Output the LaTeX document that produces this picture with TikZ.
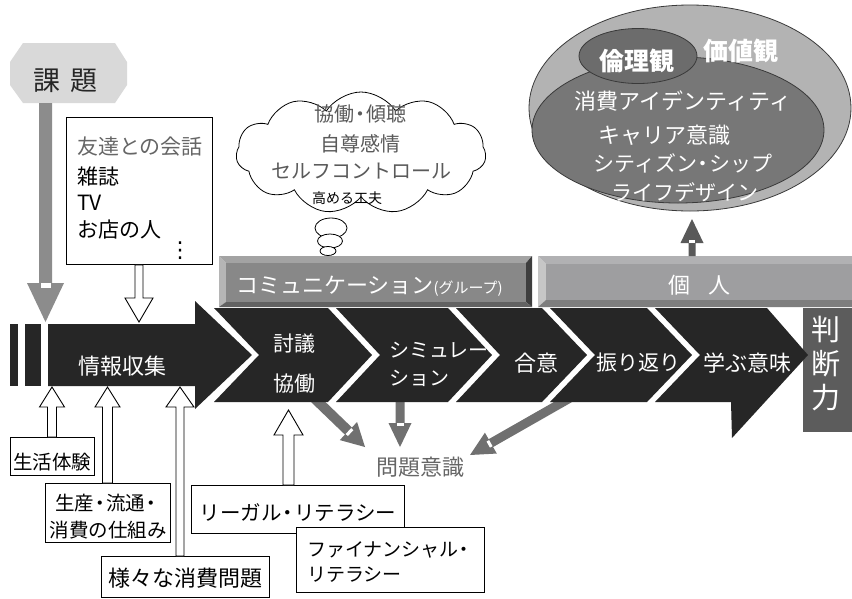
\documentclass[tikz,border=0pt]{standalone}
\usepackage{fontspec}
\setmainfont{Noto Sans CJK JP}
\newfontfamily\djv{DejaVu Sans}
\usetikzlibrary{calc,shapes.geometric,shapes.symbols}
\definecolor{blk}{HTML}{262626}
\definecolor{kadaiF}{HTML}{D9D9D9}
\definecolor{kadaiA}{HTML}{8C8C8C}
\definecolor{txtG}{HTML}{666666}
\definecolor{cloudT}{HTML}{5A5A5A}
\definecolor{ellO}{HTML}{B3B3B3}
\definecolor{ellI}{HTML}{777777}
\definecolor{ellS}{HTML}{6C6C6C}
\definecolor{ellL}{HTML}{3A3A3A}
\definecolor{upA}{HTML}{595959}
\definecolor{mondA}{HTML}{707070}
\definecolor{hanF}{HTML}{5C5C5C}
\definecolor{cFace}{HTML}{888888}
\definecolor{cTop}{HTML}{A3A3A3}
\definecolor{cLeft}{HTML}{B5B5B5}
\definecolor{cRight}{HTML}{3E3E3E}
\definecolor{cBot}{HTML}{626262}
\definecolor{kFace}{HTML}{9E9EA0}
\definecolor{kTop}{HTML}{B1B1B3}
\definecolor{kLeft}{HTML}{C6C6C6}
\definecolor{kBot}{HTML}{7E7E7E}
\newcommand{\nd}{\makebox[0.6em]{・}}
\tikzset{
  fs/.style={font=\fontsize{#1}{#1}\selectfont},
  fsb/.style={font=\fontsize{#1}{#1}\selectfont\bfseries},
  txt/.style={inner sep=0pt, outer sep=0pt},
  wtxt/.style={txt, text=white},
  boxnode/.style={draw=black, fill=white, line width=0.9pt, inner sep=0pt, anchor=north west},
  hollow/.style={draw=black, fill=white, line width=0.9pt, line join=miter},
}
\newcommand{\blockarrow}[6]{%
  \coordinate (bah) at ($(#3)!#6!(#2)$);
  \path[#1] ($(#2)!#4!90:(#3)$) -- ($(bah)!#4!90:(#3)$) -- ($(bah)!#5!90:(#3)$) -- (#3)
     -- ($(bah)!#5!-90:(#3)$) -- ($(bah)!#4!-90:(#3)$) -- ($(#2)!#4!-90:(#3)$) -- cycle;
}
\newcommand{\amark}[3]{\draw[white, line width=#3] (bah) -- ($(bah)!#2!(#1)$);}
\begin{document}
\begin{tikzpicture}[x=1pt,y=-1pt]
\useasboundingbox (0,0) rectangle (852,598);
\fill[white] (0,0) rectangle (852,598);

% ---------- values ellipse ----------
\node[ellipse, draw=ellL, fill=ellO, line width=0.8pt, minimum width=322pt, minimum height=206pt, inner sep=0pt] (valout) at (690,108) {};
\node[ellipse, draw=ellL, fill=ellI, line width=0.8pt, minimum width=292pt, minimum height=146pt, inner sep=0pt] (valin) at (678,130) {};
\node[ellipse, draw=ellL, fill=ellS, line width=0.8pt, minimum width=118pt, minimum height=55pt, inner sep=0pt] (rinri) at (638,56) {};
\node[wtxt, fsb=25] (rinriT) at (637,61) {倫理観};
\node[wtxt, fsb=25] (kachi) at (741,51) {価値観};
\node[wtxt, fs=22] (v1) at (683,101) {消費アイデンティティ};
\node[wtxt, fs=22] (v2) at (664,135) {キャリア意識};
\node[wtxt, fs=21] (v3) at (683,163) {シティズン\nd シップ};
\node[wtxt, fs=21] (v4) at (685,192) {ライフデザイン};

% ---------- cloud ----------
\node[cloud, cloud puffs=11, cloud puff arc=115, draw=black, fill=white, line width=0.8pt, minimum width=250pt, minimum height=122pt, inner sep=0pt] (cloud) at (361,153) {};
\node[ellipse, draw=black, fill=white, line width=0.8pt, minimum width=32pt, minimum height=20pt, inner sep=0pt] (bub1) at (331,228) {};
\node[ellipse, draw=black, fill=white, line width=0.8pt, minimum width=25pt, minimum height=14pt, inner sep=0pt] (bub2) at (330,241) {};
\node[ellipse, draw=black, fill=white, line width=0.8pt, minimum width=16pt, minimum height=9pt, inner sep=0pt] (bub3) at (328,251) {};
\node[txt, fs=20, text=cloudT] (c1) at (360,114) {協働\nd 傾聴};
\node[txt, fs=20, text=cloudT] (c2) at (360,144) {自尊感情};
\node[txt, fs=20, text=cloudT] (c3) at (361,171) {セルフコントロール};
\node[txt, fs=14, text=black] (c4) at (347,198) {高める工夫};

% ---------- kadai ----------
\path[fill=kadaiF] (23,43) -- (115,43) -- (127,62) -- (127,85) -- (115,103) -- (23,103) -- (10,85) -- (10,62) -- cycle;
\node[txt, fs=27, text=black!85] (kadai) at (66,81) {課\hspace{10pt}題};
\coordinate (kadaiS) at (45.5,103);
\coordinate (kadaiE) at (45.5,322);
\blockarrow{fill=kadaiA}{kadaiS}{kadaiE}{6.5pt}{18.5pt}{39pt}
\amark{kadaiE}{5pt}{10pt}

% ---------- info box ----------
\node[boxnode, minimum width=146pt, minimum height=147pt] (info) at (66,117) {};
\node[txt, fs=21, text=txtG, anchor=west] (i1) at (77,147) {友達との会話};
\node[txt, fs=21, anchor=west] (i2) at (77,176) {雑誌};
\node[txt, fs=21, anchor=west] (i3) at (77,203) {TV};
\node[txt, fs=21, anchor=west] (i4) at (77,230) {お店の人};
\node[txt, font=\djv\fontsize{22}{22}\selectfont] (i5) at (180,251) {⋮};
\coordinate (infoE) at (139,322);
\blockarrow{hollow}{info.south -| infoE}{infoE}{4pt}{14pt}{24pt}

% ---------- top bars ----------
\fill[cTop] (219,256) -- (532,256) -- (526,263) -- (226,263) -- cycle;
\fill[cLeft] (219,256) -- (226,263) -- (226,302) -- (219,307) -- cycle;
\fill[cRight] (532,256) -- (532,307) -- (526,302) -- (526,263) -- cycle;
\fill[cBot] (219,307) -- (532,307) -- (526,302) -- (226,302) -- cycle;
\fill[cFace] (226,263) rectangle (526,302);
\node[wtxt, fs=22, anchor=west] (comm) at (236,286) {コミュニケーション{\fontsize{15}{15}\selectfont (グループ)}};
\fill[kTop] (538,256) -- (852,256) -- (852,264) -- (546,264) -- cycle;
\fill[kLeft] (538,256) -- (546,264) -- (546,300) -- (538,307) -- cycle;
\fill[kBot] (538,307) -- (852,307) -- (852,300) -- (546,300) -- cycle;
\fill[kFace] (546,264) rectangle (852,300);
\node[wtxt, fs=22] (kojin) at (699,285) {個\hspace{18pt}人};
\coordinate (upS) at (692,256);
\coordinate (upE) at (692,219);
\blockarrow{fill=upA}{upS}{upE}{3.5pt}{11.5pt}{24pt}
\amark{upE}{3pt}{6pt}

% ---------- arrows to mondai ----------
\node[txt, fs=22, text=txtG] (mondai) at (420,467) {問題意識};
\coordinate (mA) at (312,396);
\coordinate (mAe) at (365,447);
\blockarrow{fill=mondA}{mA}{mAe}{5pt}{12.5pt}{23pt}
\amark{mAe}{3pt}{8pt}
\coordinate (mB) at (400,398);
\coordinate (mBe) at (400,447);
\blockarrow{fill=mondA}{mB}{mBe}{4.5pt}{11.5pt}{24pt}
\amark{mBe}{3pt}{7pt}
\coordinate (mC) at (570,398);
\coordinate (mCe) at (470,455);
\blockarrow{fill=mondA}{mC}{mCe}{4.5pt}{12pt}{24pt}
\amark{mCe}{3pt}{7pt}

% ---------- main process arrow ----------
\fill[blk] (10,324) rectangle (18,386);
\fill[blk] (25,324) rectangle (41,386);
\fill[blk] (48,324) -- (195,324) -- (195,301) -- (252,355) -- (195,409) -- (195,386) -- (48,386) -- cycle;
\fill[blk] (214,308) -- (328,308) -- (372,355) -- (328,402) -- (214,402) -- (259,355) -- cycle;
\fill[blk] (336,308) -- (448,308) -- (492,355) -- (448,402) -- (336,402) -- (380,355) -- cycle;
\fill[blk] (456,308) -- (542,308) -- (587,355) -- (542,402) -- (456,402) -- (500,355) -- cycle;
\fill[blk] (550,308) -- (647,308) -- (692,355) -- (647,402) -- (550,402) -- (595,355) -- cycle;
\fill[hanF] (803,308) rectangle (852,432);
\fill[blk] (655,308) -- (767,308) -- (808,355) -- (732,438) -- (731,402) -- (655,402) -- (700,355) -- cycle;
\node[wtxt, fs=22] (joho) at (122,366) {情報収集};
\node[wtxt, fs=21] (tougi) at (294,344) {討議};
\node[wtxt, fs=21] (kyodo) at (294,384) {協働};
\node[wtxt, fs=20, anchor=west] (sim1) at (389,350) {シミュレー};
\node[wtxt, fs=20, anchor=west] (sim2) at (389,378) {ション};
\node[wtxt, fs=22] (goi) at (536,363) {合意};
\node[wtxt, fs=21] (furi) at (638,363) {振り返り};
\node[wtxt, fs=22] (manabu) at (747,363) {学ぶ意味};
\node[wtxt, font=\fontsize{29}{34}\selectfont, align=center] (handan) at (826,364) {判\\断\\力};

% ---------- bottom boxes and hollow arrows ----------
\node[boxnode, minimum width=84pt, minimum height=38pt] (seikatsu) at (10,437) {};
\node[txt, fs=19.5] (seikatsuT) at (52,462) {生活体験};
\coordinate (hA) at (52,387);
\blockarrow{hollow}{seikatsu.north -| hA}{hA}{4.5pt}{12.5pt}{20pt}

\node[boxnode, minimum width=125pt, minimum height=59pt] (seisan) at (45,483) {};
\node[txt, fs=19.5] (seisanT1) at (106,503) {生産\nd 流通\nd};
\node[txt, fs=19.5] (seisanT2) at (108,530) {消費の仕組み};
\coordinate (hB) at (107.5,387);
\blockarrow{hollow}{seisan.north -| hB}{hB}{5pt}{12.5pt}{20pt}

\node[boxnode, minimum width=168pt, minimum height=41pt] (samazama) at (101,556) {};
\node[txt, fs=22] (samazamaT) at (185,578) {様々な消費問題};
\coordinate (hC) at (180,387);
\blockarrow{hollow}{samazama.north -| hC}{hC}{4pt}{14pt}{20pt}

\node[boxnode, minimum width=213pt, minimum height=48pt] (legal) at (191,485) {};
\node[txt, fs=20.5] (legalT) at (298,513) {リーガル\nd リテラシー};
\coordinate (hD) at (288.5,410);
\blockarrow{hollow}{legal.north -| hD}{hD}{5.5pt}{14.5pt}{25pt}

\node[boxnode, minimum width=188pt, minimum height=65pt] (finance) at (296,527) {};
\node[txt, fs=19, anchor=west] (financeT1) at (307,550) {ファイナンシャル\nd};
\node[txt, fs=19, anchor=west] (financeT2) at (307,575) {リテラシー};
\end{tikzpicture}
\end{document}
